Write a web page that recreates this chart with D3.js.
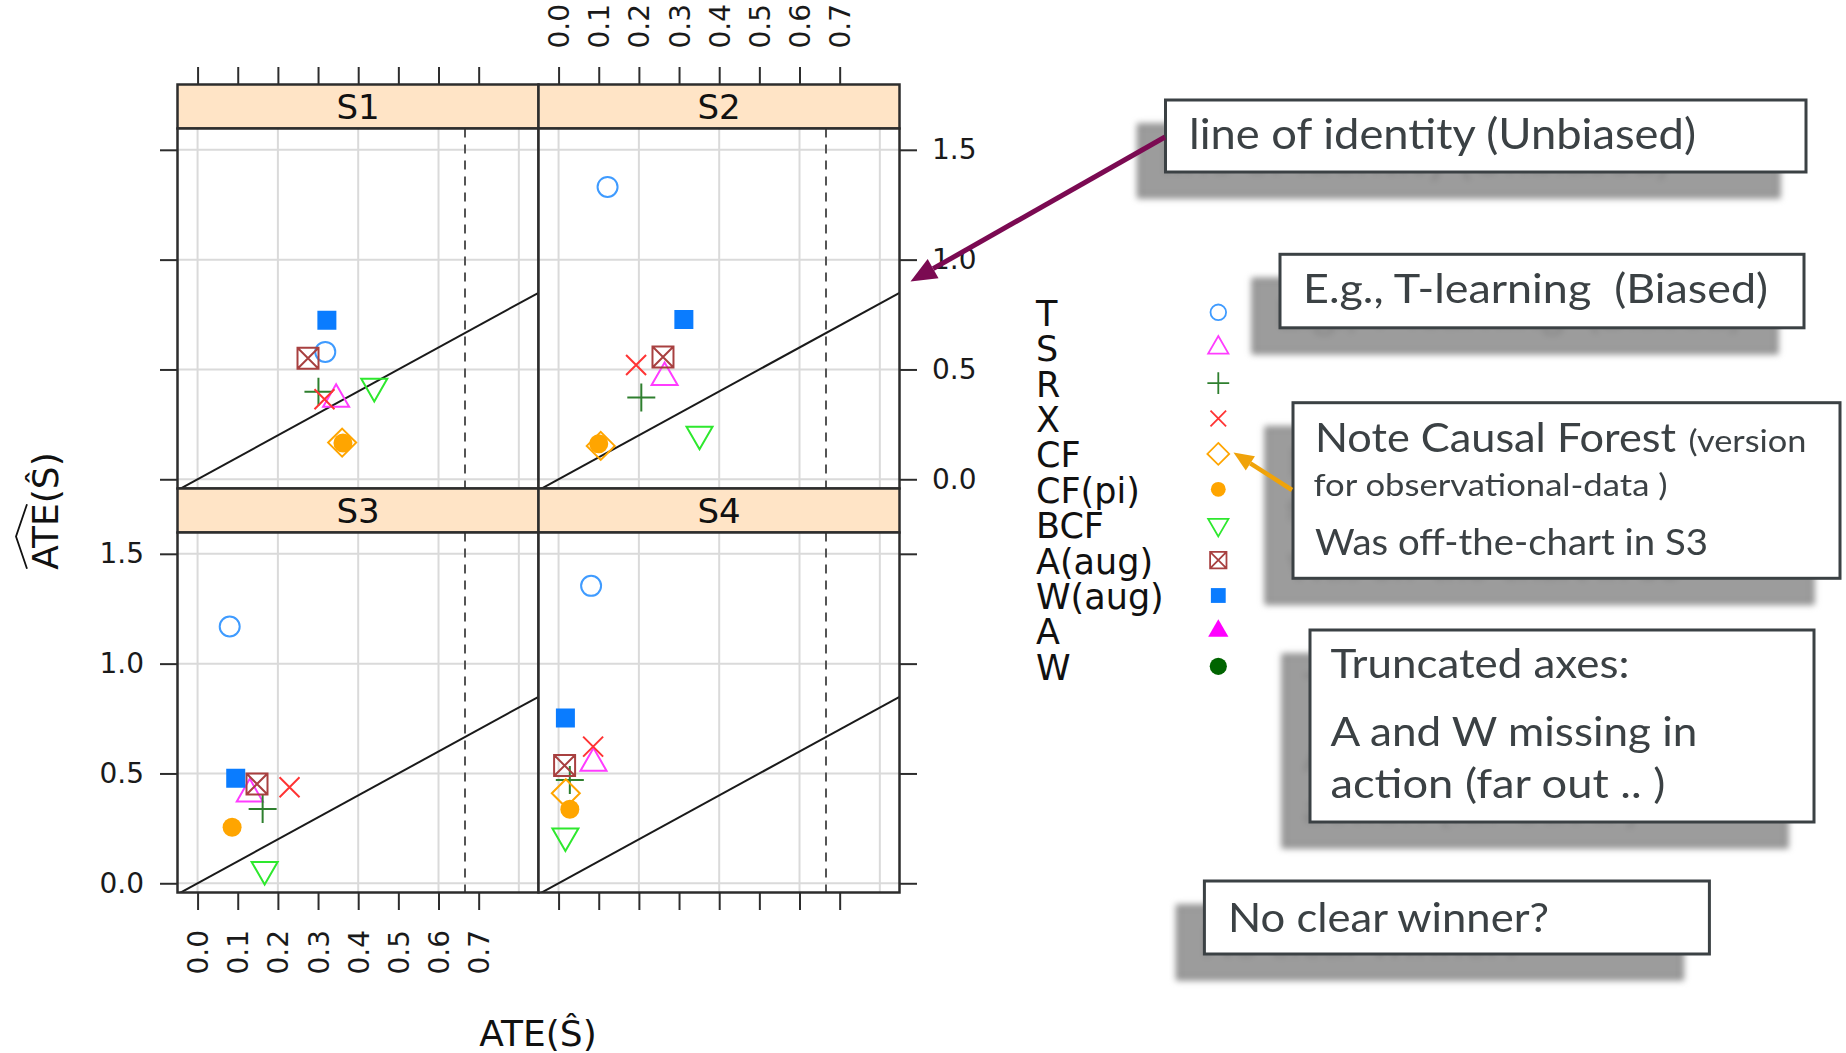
<!DOCTYPE html>
<html>
<head>
<meta charset="utf-8">
<title>Estimated vs. true ATE by scenario</title>
<script src="https://cdn.jsdelivr.net/npm/d3@7/dist/d3.min.js"></script>
<style>
  html, body { margin: 0; padding: 0; background: #ffffff; }
  svg { display: block; }
</style>
</head>
<body>
<svg id="chart" width="1846" height="1053"></svg>
<script>
// ---------------------------------------------------------------------------
// Data
// ---------------------------------------------------------------------------
const panelNames = ["S1", "S2", "S3", "S4"];
const methods = ["T", "S", "R", "X", "CF", "CF(pi)", "BCF", "A(aug)", "W(aug)", "A", "W"];

// ATE(S^) (x) and its estimate (y) for each method, one pair of arrays per scenario.
// null = the value lies outside the truncated axes.
const xS1 = [0.318, 0.345, 0.301, 0.316, 0.360, 0.362, 0.440, 0.275, 0.322, null, null];
const yS1 = [0.580, 0.364, 0.398, 0.364, 0.167, 0.165, 0.423, 0.551, 0.724, null, null];
const xS2 = [0.122, 0.264, 0.206, 0.193, 0.105, 0.100, 0.351, 0.260, 0.312, null, null];
const yS2 = [1.331, 0.463, 0.372, 0.520, 0.152, 0.162, 0.205, 0.557, 0.727, null, null];
const xS3 = [0.080, 0.130, 0.162, 0.229, null, 0.086, 0.167, 0.148, 0.095, null, null];
const yS3 = [1.169, 0.407, 0.338, 0.437, null, 0.255, 0.063, 0.452, 0.478, null, null];
const xS4 = [0.081, 0.087, 0.028, 0.086, 0.018, 0.028, 0.017, 0.015, 0.017, null, null];
const yS4 = [1.354, 0.547, 0.470, 0.622, 0.410, 0.337, 0.215, 0.536, 0.753, null, null];

const trueATE = 0.666;                       // dashed reference line
const xTicks = [0, 0.1, 0.2, 0.3, 0.4, 0.5, 0.6, 0.7];
const yTicks = [0, 0.5, 1.0, 1.5];
const xGrid = [0, 0.2, 0.4, 0.6, 0.8];
const xDomain = [-0.05, 0.849];
const yDomain = [-0.042, 1.597];

// ---------------------------------------------------------------------------
// Marker styles
// ---------------------------------------------------------------------------
const shapes = {
  circle: { draw(c, s) { const r = Math.sqrt(s) / 2; c.moveTo(r, 0); c.arc(0, 0, r, 0, 2 * Math.PI); c.closePath(); } },
  triUp: { draw(c, s) { const h = Math.sqrt(s) / 2, t = h * Math.sqrt(3);
    c.moveTo(0, -2 * t / 3); c.lineTo(h, t / 3); c.lineTo(-h, t / 3); c.closePath(); } },
  triDown: { draw(c, s) { const h = Math.sqrt(s) / 2, t = h * Math.sqrt(3);
    c.moveTo(0, 2 * t / 3); c.lineTo(h, -t / 3); c.lineTo(-h, -t / 3); c.closePath(); } },
  plus: { draw(c, s) { const h = Math.sqrt(s) / 2;
    c.moveTo(-h, 0); c.lineTo(h, 0); c.moveTo(0, -h); c.lineTo(0, h); } },
  cross: { draw(c, s) { const h = Math.sqrt(s) / 2;
    c.moveTo(-h, -h); c.lineTo(h, h); c.moveTo(-h, h); c.lineTo(h, -h); } },
  diamond: { draw(c, s) { const h = Math.sqrt(s) / 2;
    c.moveTo(0, -h); c.lineTo(h, 0); c.lineTo(0, h); c.lineTo(-h, 0); c.closePath(); } },
  square: { draw(c, s) { const h = Math.sqrt(s) / 2; c.rect(-h, -h, 2 * h, 2 * h); } },
  boxX: { draw(c, s) { const h = Math.sqrt(s) / 2;
    c.rect(-h, -h, 2 * h, 2 * h);
    c.moveTo(-h, -h); c.lineTo(h, h); c.moveTo(-h, h); c.lineTo(h, -h); } }
};

const markStyle = {
  "T":      { shape: "circle",  size: 20, color: "#3f9bff", fill: false },
  "S":      { shape: "triUp",   size: 26, color: "#ff3cff", fill: false },
  "R":      { shape: "plus",    size: 28, color: "#2e7f2e", fill: false },
  "X":      { shape: "cross",   size: 20, color: "#ff3434", fill: false },
  "CF":     { shape: "diamond", size: 28, color: "#ffa500", fill: false },
  "CF(pi)": { shape: "circle",  size: 19, color: "#ffa500", fill: true  },
  "BCF":    { shape: "triDown", size: 26, color: "#2ee82e", fill: false },
  "A(aug)": { shape: "boxX",    size: 21, color: "#a84040", fill: false },
  "W(aug)": { shape: "square",  size: 19, color: "#0a7cff", fill: true  },
  "A":      { shape: "triUp",   size: 26, color: "#ff00ff", fill: true  },
  "W":      { shape: "circle",  size: 22, color: "#006400", fill: true  }
};

function styleMark(sel, st) {
  sel.attr("fill", st.fill ? st.color : "none")
     .attr("stroke", st.fill ? "none" : st.color)
     .attr("stroke-linejoin", "miter");
}

// ---------------------------------------------------------------------------
// Layout
// ---------------------------------------------------------------------------
const svg = d3.select("#chart");
const defs = svg.append("defs");
const FONT = "'DejaVu Sans', sans-serif";
const SLIDE_FONT = "Lato, 'Open Sans', sans-serif";

const panelLeft = 177.5, panelW = 361;
const stripTop = 84.5, stripH = 44, panelH = 360;
const tickLen = 17.5;

const x = d3.scaleLinear().domain(xDomain).range([0, panelW]);
const y = d3.scaleLinear().domain(yDomain).range([panelH, 0]);
const fmt = d3.format(".1f");
const series = [[xS1, yS1], [xS2, yS2], [xS3, yS3], [xS4, yS4]];

panelNames.forEach((name, k) => {
  const col = k % 2, row = Math.floor(k / 2);
  const gx = panelLeft + col * panelW;
  const sy = stripTop + row * (stripH + panelH);
  const gy = sy + stripH;

  defs.append("clipPath").attr("id", "clip" + k)
    .append("rect").attr("x", 0).attr("y", 0).attr("width", panelW).attr("height", panelH);

  // strip
  svg.append("rect").attr("x", gx).attr("y", sy).attr("width", panelW).attr("height", stripH)
    .attr("fill", "#ffe4c6").attr("stroke", "#2d2d2d").attr("stroke-width", 2.5);
  svg.append("text").attr("x", gx + panelW / 2).attr("y", sy + stripH / 2 + 12.5)
    .attr("text-anchor", "middle").attr("font-family", FONT).attr("font-size", 34)
    .attr("fill", "#111").text(name);

  const g = svg.append("g").attr("transform", `translate(${gx},${gy})`);
  const inner = g.append("g").attr("clip-path", `url(#clip${k})`);
  inner.append("rect").attr("width", panelW).attr("height", panelH).attr("fill", "#fff");

  // reference grid
  inner.selectAll(".gx").data(xGrid).join("line")
    .attr("x1", d => x(d)).attr("x2", d => x(d)).attr("y1", 0).attr("y2", panelH)
    .attr("stroke", "#dadada").attr("stroke-width", 2);
  inner.selectAll(".gy").data(yTicks).join("line")
    .attr("x1", 0).attr("x2", panelW).attr("y1", d => y(d)).attr("y2", d => y(d))
    .attr("stroke", "#dadada").attr("stroke-width", 2);

  // true ATE
  inner.append("line").attr("x1", x(trueATE)).attr("x2", x(trueATE)).attr("y1", 0).attr("y2", panelH)
    .attr("stroke", "#555").attr("stroke-width", 2).attr("stroke-dasharray", "9,7");

  // line of identity
  const ident = d3.line().x(d => x(d)).y(d => y(d));
  inner.append("path").attr("d", ident(xDomain)).attr("fill", "none")
    .attr("stroke", "#1a1a1a").attr("stroke-width", 2);

  // estimates
  const [xs, ys] = series[k];
  methods.forEach((m, i) => {
    if (xs[i] == null || ys[i] == null) return;
    const st = markStyle[m];
    inner.append("path")
      .attr("transform", `translate(${x(xs[i])},${y(ys[i])})`)
      .attr("d", d3.symbol().type(shapes[st.shape]).size(st.size * st.size)())
      .attr("stroke-width", 2)
      .call(styleMark, st);
  });

  g.append("rect").attr("width", panelW).attr("height", panelH)
    .attr("fill", "none").attr("stroke", "#2d2d2d").attr("stroke-width", 2.5);

  // axes (labels alternate between sides, ticks on all outer sides)
  const styleAxis = a => {
    a.select(".domain").remove();
    a.selectAll("line").attr("stroke", "#2d2d2d").attr("stroke-width", 2);
    a.selectAll("text").attr("font-family", FONT).attr("font-size", 28).attr("fill", "#1a1a1a");
  };
  if (row === 0) {
    const a = svg.append("g").attr("transform", `translate(${gx},${stripTop})`)
      .call(d3.axisTop(x).tickValues(xTicks).tickSize(tickLen)
        .tickFormat(col === 1 ? fmt : () => "")).call(styleAxis);
    a.selectAll("text").attr("transform", "rotate(-90)").attr("text-anchor", "start")
      .attr("x", 36).attr("y", 0).attr("dy", "0.36em");
  } else {
    const a = svg.append("g").attr("transform", `translate(${gx},${gy + panelH})`)
      .call(d3.axisBottom(x).tickValues(xTicks).tickSize(tickLen)
        .tickFormat(col === 0 ? fmt : () => "")).call(styleAxis);
    a.selectAll("text").attr("transform", "rotate(-90)").attr("text-anchor", "end")
      .attr("x", -37.5).attr("y", 0).attr("dy", "0.36em");
  }
  if (col === 0) {
    svg.append("g").attr("transform", `translate(${gx},${gy})`)
      .call(d3.axisLeft(y).tickValues(yTicks).tickSize(tickLen).tickPadding(16)
        .tickFormat(row === 1 ? fmt : () => "")).call(styleAxis);
  } else {
    svg.append("g").attr("transform", `translate(${gx + panelW},${gy})`)
      .call(d3.axisRight(y).tickValues(yTicks).tickSize(tickLen).tickPadding(15)
        .tickFormat(row === 0 ? fmt : () => "")).call(styleAxis);
  }
});

// axis titles
svg.append("text").attr("x", 538).attr("y", 1046).attr("text-anchor", "middle")
  .attr("font-family", FONT).attr("font-size", 36).attr("fill", "#111").text("ATE(Ŝ)");

const yt = svg.append("g").attr("transform", "translate(58,511) rotate(-90)");
const ytText = yt.append("text").attr("font-family", FONT).attr("font-size", 36)
  .attr("fill", "#111").text("ATE(Ŝ)");
const ytLen = ytText.node().getComputedTextLength();
const ateLen = ytText.node().getSubStringLength(0, 3);
ytText.attr("x", -ytLen / 2);
yt.append("path")
  .attr("d", `M${-ytLen / 2 + 1},-31 L${-ytLen / 2 + ateLen / 2},-42 L${-ytLen / 2 + ateLen - 1},-31`)
  .attr("fill", "none").attr("stroke", "#111").attr("stroke-width", 1.8);

// legend
const legX = 1036, legSymX = 1218.3, legY0 = 312.3, legDY = 35.4, legScale = 0.78;
methods.forEach((m, i) => {
  const yy = legY0 + i * legDY;
  const st = markStyle[m];
  svg.append("text").attr("x", legX).attr("y", yy + 13.5)
    .attr("font-family", FONT).attr("font-size", 35).attr("fill", "#111").text(m);
  svg.append("path")
    .attr("transform", `translate(${legSymX},${yy})`)
    .attr("d", d3.symbol().type(shapes[st.shape]).size(Math.pow(st.size * legScale, 2))())
    .attr("stroke-width", 1.8)
    .call(styleMark, st);
});

// ---------------------------------------------------------------------------
// Callouts
// ---------------------------------------------------------------------------
// Soft drop shadow built from the callout itself: the white box becomes mid grey,
// the dark lettering a slightly darker grey, then offset down-left and blurred.
const shadow = defs.append("filter").attr("id", "dropShadow")
  .attr("x", "-12%").attr("y", "-10%").attr("width", "124%").attr("height", "190%")
  .attr("color-interpolation-filters", "sRGB");
shadow.append("feColorMatrix").attr("in", "SourceGraphic").attr("type", "matrix")
  .attr("values", "0.12 0 0 0 0.492  0.12 0 0 0 0.492  0.12 0 0 0 0.492  0 0 0 1 0")
  .attr("result", "tone");
shadow.append("feOffset").attr("in", "tone").attr("dx", -27).attr("dy", 25).attr("result", "off");
shadow.append("feGaussianBlur").attr("in", "off").attr("stdDeviation", 3).attr("result", "blur");
const merge = shadow.append("feMerge");
merge.append("feMergeNode").attr("in", "blur");
merge.append("feMergeNode").attr("in", "SourceGraphic");

const callouts = [
  { box: [1165.5, 100, 640.5, 72], lines: [
      { t: "line of identity (Unbiased)", x: 1189, y: 149, s: 42, w: 507 }] },
  { box: [1280, 254.3, 524, 73.5], lines: [
      { t: "E.g., T-learning  (Biased)", x: 1303, y: 302.7, s: 40, w: 465 }] },
  { box: [1293, 402.7, 547, 175.6], lines: [
      { t: "Note Causal Forest", x: 1315, y: 451.7, s: 41, w: 361 },
      { t: "(version", x: 1688.5, y: 451.7, s: 31, w: 118 },
      { t: "for observational-data )", x: 1313.5, y: 496, s: 31, w: 354 },
      { t: "Was off-the-chart in S3", x: 1315, y: 555, s: 37, w: 393 }] },
  { box: [1310, 630, 504, 192], lines: [
      { t: "Truncated axes:", x: 1330.4, y: 678.3, s: 40, w: 299 },
      { t: "A and W missing in", x: 1330.4, y: 746, s: 40, w: 367 },
      { t: "action (far out .. )", x: 1330.4, y: 797.5, s: 40, w: 335 }] },
  { box: [1204.4, 881, 505, 73], lines: [
      { t: "No clear winner?", x: 1228, y: 931.7, s: 41, w: 321 }] }
];

callouts.forEach(c => {
  const cg = svg.append("g").attr("filter", "url(#dropShadow)");
  cg.append("rect").attr("x", c.box[0]).attr("y", c.box[1])
    .attr("width", c.box[2]).attr("height", c.box[3])
    .attr("fill", "#ffffff").attr("stroke", "#3b4144").attr("stroke-width", 3);
  c.lines.forEach(l => {
    cg.append("text").attr("x", l.x).attr("y", l.y)
      .attr("font-family", SLIDE_FONT).attr("font-size", l.s).attr("fill", "#3b4144")
      .attr("textLength", l.w).attr("lengthAdjust", "spacingAndGlyphs")
      .style("white-space", "pre").text(l.t);
  });
});

// arrows
function arrow(x1, y1, x2, y2, color, w, headLen, headW) {
  const a = Math.atan2(y2 - y1, x2 - x1);
  const bx = x2 - headLen * Math.cos(a), by = y2 - headLen * Math.sin(a);
  svg.append("line").attr("x1", x1).attr("y1", y1).attr("x2", bx).attr("y2", by)
    .attr("stroke", color).attr("stroke-width", w);
  const px = -Math.sin(a) * headW / 2, py = Math.cos(a) * headW / 2;
  svg.append("polygon")
    .attr("points", `${x2},${y2} ${bx + px},${by + py} ${bx - px},${by - py}`)
    .attr("fill", color);
}
arrow(1165, 137, 910.5, 281.5, "#7b0a52", 5, 26, 22);
arrow(1292, 490, 1233.5, 452.5, "#f0a30a", 4.5, 20, 17);
</script>
</body>
</html>
